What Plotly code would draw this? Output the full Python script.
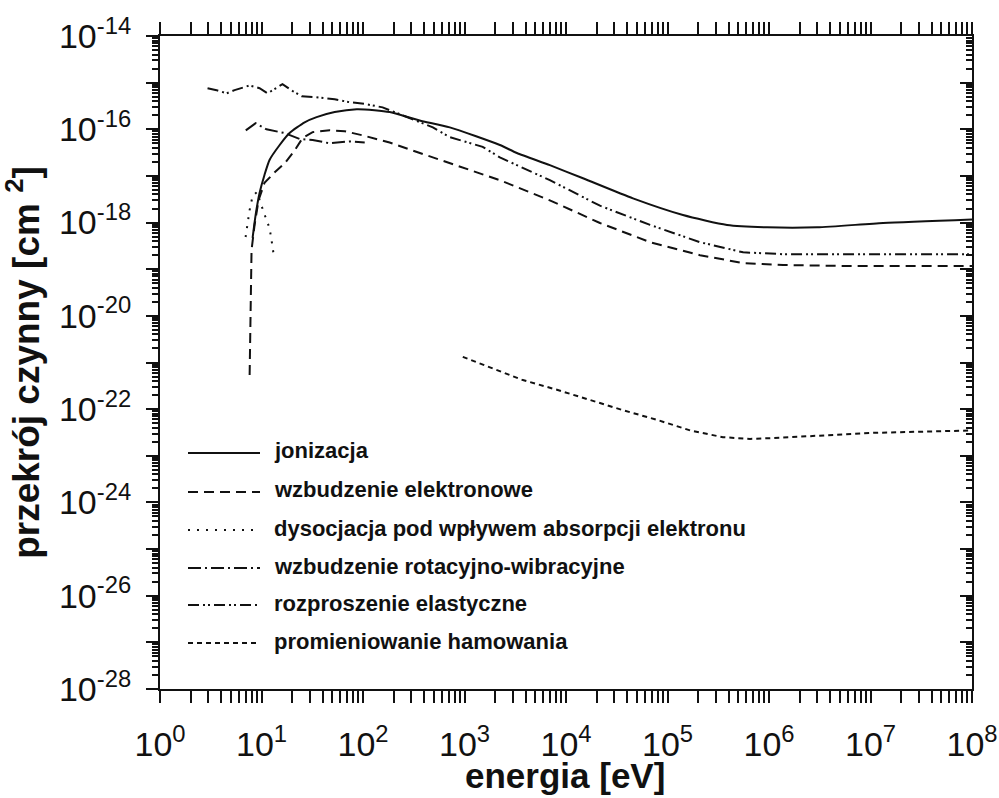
import numpy as np
import plotly.graph_objects as go

# ---------------- data ----------------
ion_E = [8.17, 8.75, 9.57, 10.7, 12.0, 15.1, 18.9, 26.6, 34.9, 52.6, 86.7, 130, 183,
         362, 716, 2230, 3280, 6930, 14700, 45700, 142000, 386000, 957000, 2.98e6,
         1.33e7, 1e8]
ion_S = [4.7e-19, 1.45e-18, 4.3e-18, 1.05e-17, 2.2e-17, 4.6e-17, 8.3e-17, 1.41e-16,
         1.82e-16, 2.34e-16, 2.7e-16, 2.57e-16, 2.34e-16, 1.55e-16, 1.1e-16, 4.6e-17,
         3.1e-17, 1.7e-17, 8.9e-18, 3.3e-18, 1.45e-18, 8.9e-19, 7.9e-19, 7.9e-19,
         9.8e-19, 1.17e-18]

exc_E = [7.64, 7.80, 7.98, 8.55, 9.35, 10.7, 13.5, 16.9, 21.2, 25.4, 31.9, 47.0, 66.1,
         99.3, 183, 309, 716, 2230, 6930, 21600, 67300, 209000, 556000, 1.38e6,
         6.31e6, 1e8]
exc_S = [5.4e-22, 2.2e-20, 2.6e-19, 8.9e-19, 3.0e-18, 7.1e-18, 1.2e-17, 1.86e-17,
         3.5e-17, 6.5e-17, 8.7e-17, 9.5e-17, 9.1e-17, 7.4e-17, 5.2e-17, 3.5e-17,
         1.86e-17, 8.1e-18, 3.0e-18, 9.8e-19, 3.8e-19, 2.0e-19, 1.35e-19, 1.23e-19,
         1.17e-19, 1.17e-19]

att_E = [6.97, 7.29, 7.64, 8.17, 9.0, 10.7, 12.0, 12.6, 13.2]
att_S = [4.9e-19, 9.8e-19, 1.86e-18, 3.7e-18, 4.5e-18, 1.5e-18, 7.6e-19, 4.0e-19, 2.0e-19]

vib_E = [7.0, 8.75, 11.2, 16.9, 23.8, 31.9, 47.0, 74.0, 104]
vib_S = [9.5e-17, 1.35e-16, 1.0e-16, 8.3e-17, 6.2e-17, 5.9e-17, 5.0e-17, 5.5e-17, 5.2e-17]

ela_E = [2.94, 3.61, 4.53, 5.43, 7.64, 9.57, 11.5, 16.1, 20.3, 24.9, 34.2, 52.6, 74.0,
         104, 156, 289, 488, 716, 1510, 2230, 6930, 21600, 67300, 209000, 556000,
         1.38e6, 6.31e6, 1e8]
ela_S = [7.6e-16, 6.9e-16, 5.9e-16, 6.9e-16, 8.7e-16, 7.6e-16, 5.9e-16, 9.3e-16, 6.6e-16,
         5.1e-16, 4.9e-16, 4.4e-16, 3.8e-16, 3.5e-16, 2.95e-16, 1.74e-16, 1.1e-16,
         6.8e-17, 4.2e-17, 2.5e-17, 8.1e-18, 2.3e-18, 8.9e-19, 3.8e-19, 2.3e-19,
         2.1e-19, 2.1e-19, 2.1e-19]

brem_E = [962, 1780, 3760, 8150, 17200, 36400, 78700, 167000, 352000, 650000, 1.1e6,
          2.38e6, 1.06e7, 6.1e7, 1e8]
brem_S = [1.32e-21, 7.9e-22, 4.2e-22, 2.6e-22, 1.55e-22, 9.5e-23, 5.9e-23, 3.5e-23,
          2.5e-23, 2.3e-23, 2.4e-23, 2.6e-23, 3.1e-23, 3.4e-23, 3.5e-23]

series_names = ["jonizacja",
                "wzbudzenie elektronowe",
                "dysocjacja pod wpływem absorpcji elektronu",
                "wzbudzenie rotacyjno-wibracyjne",
                "rozproszenie elastyczne",
                "promieniowanie hamowania"]

x_title = "energia [eV]"
y_title = "przekrój czynny [cm <sup>2</sup>]"

x_tick_exponents = list(range(0, 9))
y_tick_exponents = list(range(-28, -13))

# ---------------- styling ----------------
INK = "#111111"
FONT = "Arial, Liberation Sans, sans-serif"
dashes = ["solid", "10px,6px", "2px,7px", "13px,4px,2px,4px",
          "11px,4px,2px,3px,2px,4px", "5px,4px"]
shapes_line = ["spline", "linear", "linear", "linear", "linear", "linear"]

data = [(ion_E, ion_S), (exc_E, exc_S), (att_E, att_S),
        (vib_E, vib_S), (ela_E, ela_S), (brem_E, brem_S)]

fig = go.Figure()
for (E, S), name, d, shp in zip(data, series_names, dashes, shapes_line):
    fig.add_trace(go.Scatter(x=E, y=S, mode="lines", name=name, showlegend=False,
                             line=dict(color=INK, width=2, dash=d, shape=shp,
                                       smoothing=0.6)))

# helper (invisible) trace so that the right-hand axis is drawn
fig.add_trace(go.Scatter(x=ion_E, y=ion_S, yaxis="y2", mode="lines", opacity=0,
                         showlegend=False, hoverinfo="skip"))

# minor tick positions (axis decoration)
def minor_vals(exps):
    return [k * 10.0 ** e for e in exps[:-1] for k in range(2, 10)]

x_major = [10.0 ** e for e in x_tick_exponents]
x_text = [f"10<sup>{e}</sup>" for e in x_tick_exponents]
y_major = [10.0 ** e for e in y_tick_exponents]
y_text = [f"10<sup>{e}</sup>" if e % 2 == 0 else "" for e in y_tick_exponents]

tickfont = dict(family=FONT, size=34, color=INK)

fig.update_layout(
    width=999, height=798,
    margin=dict(l=160, r=27, t=36, b=109, autoexpand=False),
    paper_bgcolor="white", plot_bgcolor="white",
    xaxis=dict(type="log", range=[0, 8], tickmode="array", tickvals=x_major,
               ticktext=x_text, ticks="outside", ticklen=12, tickwidth=2,
               tickcolor=INK, showline=True, linewidth=2, linecolor=INK,
               mirror="allticks", showgrid=False, zeroline=False, automargin=False,
               tickfont=tickfont, ticklabelstandoff=12,
               minor=dict(tickmode="array", tickvals=minor_vals(x_tick_exponents),
                          ticks="outside", ticklen=7, tickwidth=2, tickcolor=INK,
                          showgrid=False)),
    yaxis=dict(type="log", range=[-28, -14], tickmode="array", tickvals=y_major,
               ticktext=y_text, ticks="outside", ticklen=12, tickwidth=2,
               tickcolor=INK, showline=True, linewidth=2, linecolor=INK,
               showgrid=False, zeroline=False, tickfont=tickfont, automargin=False,
               ticklabelstandoff=8,
               minor=dict(tickmode="array", tickvals=minor_vals(y_tick_exponents),
                          ticks="outside", ticklen=6, tickwidth=1.5, tickcolor=INK,
                          showgrid=False),
               title=dict(text=f"<b>{y_title}</b>", standoff=14,
                          font=dict(family=FONT, size=37, color=INK))),
    yaxis2=dict(type="log", range=[-28, -14], overlaying="y", side="right",
                tickmode="array", tickvals=y_major, ticktext=["" for _ in y_major],
                ticks="inside", ticklen=12, tickwidth=2, tickcolor=INK,
                showline=True, linewidth=2, linecolor=INK, showgrid=False,
                zeroline=False, showticklabels=False, automargin=False,
                minor=dict(tickmode="array", tickvals=minor_vals(y_tick_exponents),
                           ticks="inside", ticklen=6, tickwidth=1.5, tickcolor=INK,
                           showgrid=False)),
)

plot_w, plot_h = 999 - 160 - 27, 798 - 36 - 109
def px_to_paper(px, py):
    return (px - 160) / plot_w, (798 - 109 - py) / plot_h

# x-axis title
tx, ty = px_to_paper(565, 775)
fig.add_annotation(xref="paper", yref="paper", x=tx, y=ty, xanchor="center",
                   yanchor="middle", showarrow=False, text=f"<b>{x_title}</b>",
                   font=dict(family=FONT, size=35, color=INK))

# hand-drawn legend (long line samples as in the reference)
row_y = [451, 490, 528, 566, 603, 641]
for name, d, py in zip(series_names, dashes, row_y):
    x0, y0 = px_to_paper(188, py + 2)
    x1, _ = px_to_paper(260, py + 2)
    fig.add_shape(type="line", xref="paper", yref="paper", x0=x0, x1=x1, y0=y0, y1=y0,
                  line=dict(color=INK, width=2, dash=d))
    tx, ty = px_to_paper(272, py)
    fig.add_annotation(xref="paper", yref="paper", x=tx, y=ty, xanchor="left",
                       yanchor="middle", showarrow=False, text=f"<b>{name}</b>",
                       font=dict(family=FONT, size=22, color=INK))

fig.write_html("out.html")
